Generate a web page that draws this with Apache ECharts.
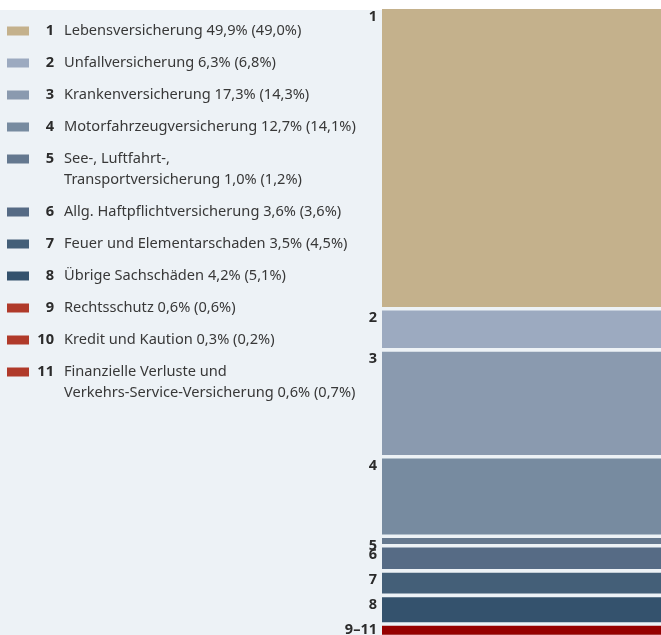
<!DOCTYPE html>
<html>
<head>
<meta charset="utf-8">
<script src="https://cdn.jsdelivr.net/npm/echarts@6/dist/echarts.min.js"></script>
<style>
  html, body { margin: 0; padding: 0; background: #fff; }
  #container { width: 661px; height: 635px; }
</style>
</head>
<body>
<div id="container"></div>
<script>
// Sparten (Legende links)
var nummern = ['1', '2', '3', '4', '5', '6', '7', '8', '9', '10', '11'];
var sparten = [
    'Lebensversicherung',
    'Unfallversicherung',
    'Krankenversicherung',
    'Motorfahrzeugversicherung',
    'See-, Luftfahrt-,\nTransportversicherung',
    'Allg. Haftpflichtversicherung',
    'Feuer und Elementarschaden',
    'Übrige Sachschäden',
    'Rechtsschutz',
    'Kredit und Kaution',
    'Finanzielle Verluste und\nVerkehrs-Service-Versicherung'
];
// Anteil aktuelles Jahr und (Vorjahr) in %
var anteil = [49.9, 6.3, 17.3, 12.7, 1.0, 3.6, 3.5, 4.2, 0.6, 0.3, 0.6];
var vorjahr = [49.0, 6.8, 14.3, 14.1, 1.2, 3.6, 4.5, 5.1, 0.6, 0.2, 0.7];
var farben = ['#c4b18c', '#9caac0', '#8a9aaf', '#778ba0', '#64788f', '#566b85', '#445f78', '#34526d', '#b03a2a', '#b03a2a', '#b03a2a'];

// Balken rechts: 9-11 sind zusammengefasst
var balkenLabels = ['1', '2', '3', '4', '5', '6', '7', '8', '9–11'];
var balkenGruppen = [[0], [1], [2], [3], [4], [5], [6], [7], [8, 9, 10]];
var balkenFarben = ['#c4b18c', '#9caac0', '#8a9aaf', '#778ba0', '#66798f', '#566b85', '#445f78', '#34526d', '#960000'];

var FONT = '"Noto Sans", sans-serif';
var gap = 3.6;   // Abstand zwischen den Segmenten in px

function fmt(v) {
    return v.toFixed(1).replace('.', ',') + '%';
}

// gestapelte Werte für die Segmente
var segData = [];
var summe = 0;
balkenGruppen.forEach(function (g, i) {
    var wert = 0;
    g.forEach(function (k) { wert += anteil[k]; });
    segData.push([0, summe, summe + wert, i]);
    summe += wert;
});

var dom = document.getElementById('container');
var myChart = echarts.init(dom);

// Legende als graphic-Elemente
var graphics = [{
    type: 'rect',
    shape: { x: 0, y: 10, width: 661, height: 625 },
    style: { fill: '#edf2f6' },
    z: -10
}];
var yPos = 31;
sparten.forEach(function (name, i) {
    var text = name + ' ' + fmt(anteil[i]) + ' (' + fmt(vorjahr[i]) + ')';
    var zeilen = text.split('\n').length;
    graphics.push({
        type: 'rect',
        shape: { x: 7, y: yPos - 4.5, width: 22, height: 9 },
        style: { fill: farben[i] }
    });
    graphics.push({
        type: 'text',
        style: {
            text: nummern[i], x: 54, y: yPos,
            align: 'right', verticalAlign: 'middle',
            font: 'bold 14.6px ' + FONT, fill: '#2b2b2b'
        }
    });
    graphics.push({
        type: 'text',
        style: {
            text: text, x: 64, y: yPos - 10.5,
            align: 'left', verticalAlign: 'top', lineHeight: 21,
            font: '14.6px ' + FONT, fill: '#383838'
        }
    });
    yPos += 32 + (zeilen - 1) * 21;
});

myChart.setOption({
    backgroundColor: '#ffffff',
    animation: false,
    graphic: { elements: graphics },
    grid: { left: 382, right: 0, top: 9, height: 597 },
    xAxis: { type: 'category', data: [''], show: false },
    yAxis: { type: 'value', min: 0, max: 100, inverse: true, show: false },
    series: [{
        type: 'custom',
        data: segData,
        renderItem: function (params, api) {
            var cs = params.coordSys;
            var idx = api.value(3);
            var y0 = api.coord([0, api.value(1)])[1] + idx * gap;
            var y1 = api.coord([0, api.value(2)])[1] + idx * gap;
            // Beschriftung darf nicht unten aus dem Bild laufen
            var ly = Math.min(y0, 622);
            return {
                type: 'group',
                children: [{
                    type: 'rect',
                    shape: { x: cs.x, y: y0, width: cs.width, height: y1 - y0 },
                    style: { fill: balkenFarben[idx] }
                }, {
                    type: 'text',
                    style: {
                        text: balkenLabels[idx], x: cs.x - 5, y: ly,
                        align: 'right', verticalAlign: 'top',
                        font: 'bold 14.5px ' + FONT, fill: '#2b2b2b'
                    }
                }]
            };
        }
    }]
});
</script>
</body>
</html>
